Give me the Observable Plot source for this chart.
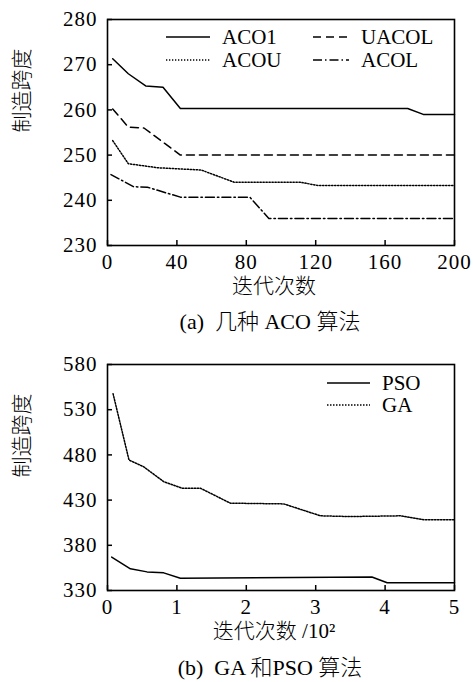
<!DOCTYPE html>
<html><head><meta charset="utf-8">
<script src="https://cdn.jsdelivr.net/npm/d3@7"></script>
<script src="https://cdn.jsdelivr.net/npm/@observablehq/plot@0.6"></script>
<style>
html,body{margin:0;background:#fff;overflow:hidden;}
#wrap{position:relative;width:473px;height:682px;font-family:"Liberation Serif","Noto Sans CJK SC",serif;color:#000;}
#wrap svg text{font-family:"Liberation Serif","Noto Sans CJK SC",serif;}
#wrap g[aria-label$="tick label"] text{letter-spacing:1px;}
.panel{position:absolute;left:0;}
.legend{position:absolute;left:0;top:0;}
.cap{position:absolute;left:70px;width:400px;text-align:center;font-size:22px;line-height:24px;white-space:pre;font-weight:300;}
</style></head><body><div id="wrap"></div>
<script>
const FONT = "Liberation Serif, Noto Sans CJK SC, serif";

// ---- Panel (a): several ACO algorithms ----
const topXTicks = [0, 40, 80, 120, 160, 200];
const topYTicks = [230, 240, 250, 260, 270, 280];
const aco1X  = [3, 12, 22, 32, 42, 173, 182, 200];
const aco1Y  = [271.3, 268, 265.3, 265, 260.3, 260.3, 259, 259];
const uacolX = [3, 12, 21, 42, 200];
const uacolY = [260.2, 256.2, 256, 250, 250];
const acouX  = [3, 12, 29, 54, 73, 111, 121, 200];
const acouY  = [253.2, 248.1, 247.2, 246.7, 244, 244, 243.3, 243.3];
const acolX  = [2, 15, 23, 42, 82, 93, 200];
const acolY  = [245.7, 243, 242.9, 240.7, 240.7, 236, 236];

// ---- Panel (b): GA and PSO ----
const botXTicks = [0, 1, 2, 3, 4, 5];
const botYTicks = [330, 380, 430, 480, 530, 580];
const psoX = [0.06, 0.33, 0.57, 0.81, 1.05, 3.81, 4.03, 5];
const psoY = [367, 354, 350.6, 349.5, 343.5, 345, 338.5, 338.5];
const gaX  = [0.08, 0.31, 0.52, 0.81, 1.08, 1.34, 1.77, 2.54, 3.07, 3.5, 4.22, 4.56, 5];
const gaY  = [547.7, 474.3, 466.9, 450.4, 443.1, 443.1, 426.6, 425.8, 412.6, 411.8, 412.6, 408.2, 408.2];

const yTitle = "制造跨度";
const topXTitle = "迭代次数";
const botXTitle = "迭代次数 /10²";
const topCaption = "(a)  几种 ACO 算法";
const botCaption = "(b)  GA 和PSO 算法";

const dash = {ACO1: null, UACOL: "8,5", ACOU: "1.3,1.7", ACOL: "9,3,1.5,3", PSO: null, GA: "1.5,1.5"};

function rows(name, xs, ys) { return xs.map((x, i) => ({series: name, x, y: ys[i]})); }

const topSeries = [
  {name: "ACO1", data: rows("ACO1", aco1X, aco1Y)},
  {name: "UACOL", data: rows("UACOL", uacolX, uacolY)},
  {name: "ACOU", data: rows("ACOU", acouX, acouY)},
  {name: "ACOL", data: rows("ACOL", acolX, acolY)}
];
const botSeries = [
  {name: "PSO", data: rows("PSO", psoX, psoY)},
  {name: "GA", data: rows("GA", gaX, gaY)}
];

function panel({xTicks, yTicks, series, xTitle}) {
  return Plot.plot({
    width: 473, height: 300,
    marginLeft: 107, marginRight: 19, marginTop: 19, marginBottom: 55,
    x: {domain: [xTicks[0], xTicks[xTicks.length - 1]], label: null},
    y: {domain: [yTicks[0], yTicks[yTicks.length - 1]], label: null},
    style: {color: "#000", background: "transparent", overflow: "visible", fontFamily: FONT},
    marks: [
      ...series.map(s => Plot.line(s.data, {x: "x", y: "y", stroke: "#000", strokeWidth: 1.5, strokeDasharray: dash[s.name]})),
      Plot.axisX(xTicks, {tickSize: -5, tickFormat: () => "", strokeWidth: 1.5, label: null}),
      Plot.axisX(xTicks, {tickSize: 0, tickPadding: 9, fontSize: 21, fontFamily: FONT, fontVariant: "normal", label: null}),
      Plot.axisY(yTicks, {tickSize: -5, tickFormat: () => "", strokeWidth: 1.5, label: null}),
      Plot.axisY(yTicks, {tickSize: 0, tickPadding: 10, fontSize: 21, fontFamily: FONT, fontVariant: "normal", label: null}),
      Plot.frame({stroke: "#000", strokeWidth: 1.6}),
      Plot.text([xTitle], {frameAnchor: "bottom", dy: 47, dx: -7, fontSize: 21, fontWeight: 300, fontFamily: FONT}),
      Plot.text([yTitle], {frameAnchor: "left", dx: -85, rotate: -90, fontSize: 21, fontWeight: 300, fontFamily: FONT})
    ]
  });
}

const wrap = document.getElementById("wrap");
function place(el, top) { el.classList.add("panel"); el.style.top = top + "px"; wrap.appendChild(el); }

place(panel({xTicks: topXTicks, yTicks: topYTicks, series: topSeries, xTitle: topXTitle}), 0);
place(panel({xTicks: botXTicks, yTicks: botYTicks, series: botSeries, xTitle: botXTitle}), 345);

// legends (overlay)
const legendItems = [
  {name: "ACO1", x: 166, y: 37, len: 44},
  {name: "ACOU", x: 166, y: 60, len: 44},
  {name: "UACOL", x: 313, y: 37, len: 36},
  {name: "ACOL", x: 313, y: 60, len: 36},
  {name: "PSO", x: 327, y: 383, len: 43},
  {name: "GA", x: 327, y: 405, len: 43}
];
const lg = d3.create("svg").attr("class", "legend").attr("width", 473).attr("height", 682);
const g = lg.selectAll("g").data(legendItems).join("g").attr("transform", d => `translate(${d.x},${d.y})`);
g.append("line").attr("x1", 0).attr("x2", d => d.len).attr("stroke", "#000").attr("stroke-width", 1.5)
  .attr("stroke-dasharray", d => dash[d.name]);
g.append("text").attr("x", d => d.len + 12).attr("dy", "0.34em").attr("font-size", 21).text(d => d.name);
wrap.appendChild(lg.node());

function caption(text, top) {
  const d = document.createElement("div"); d.className = "cap"; d.style.top = top + "px"; d.textContent = text; wrap.appendChild(d);
}
caption(topCaption, 310);
caption(botCaption, 656);
</script></body></html>
